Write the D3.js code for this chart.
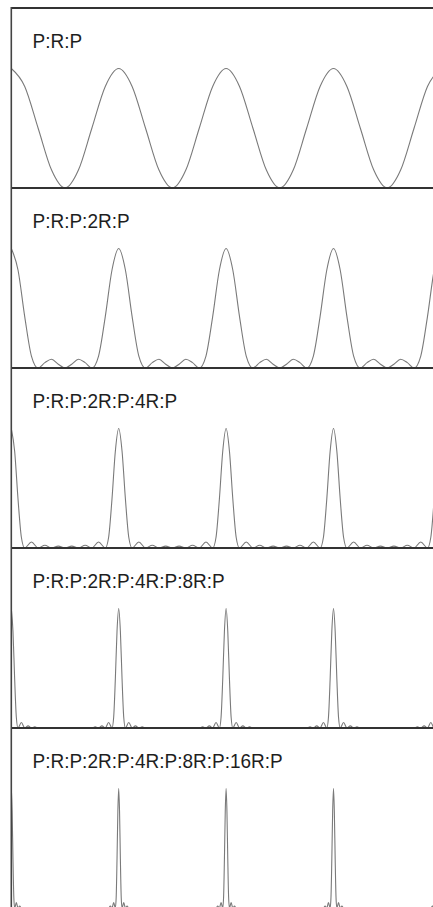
<!DOCTYPE html>
<html>
<head>
<meta charset="utf-8">
<script src="https://cdn.jsdelivr.net/npm/d3@7"></script>
<style>
  html, body { margin: 0; padding: 0; background: #fff; }
  svg { display: block; }
</style>
</head>
<body>
<svg id="chart" width="433" height="907"></svg>
<script>
// Panel titles (stacking sequences)
const labels = [
  "P:R:P",
  "P:R:P:2R:P",
  "P:R:P:2R:P:4R:P",
  "P:R:P:2R:P:4R:P:8R:P",
  "P:R:P:2R:P:4R:P:8R:P:16R:P"
];

// Normalised intensity vs. position (in units of the main-peak spacing)
const seqA = [
  [0,1],[0.125,0.85],[0.25,0.5],[0.375,0.15],[0.5,0],[0.625,0.15],[0.75,0.5],[0.875,0.85],
  [1,1],[1.125,0.85],[1.25,0.5],[1.375,0.15],[1.5,0],[1.625,0.15],[1.75,0.5],[1.875,0.85],
  [2,1],[2.125,0.85],[2.25,0.5],[2.375,0.15],[2.5,0],[2.625,0.15],[2.75,0.5],[2.875,0.85],
  [3,1],[3.125,0.85],[3.25,0.5],[3.375,0.15],[3.5,0],[3.625,0.15],[3.75,0.5],[3.875,0.85],
  [4,1]
];

const seqB = [
  [0,1],[0.0625,0.82],[0.125,0.43],[0.1875,0.1],[0.25,0],[0.3125,0.045],[0.375,0.073],[0.4375,0.032],
  [0.5,0],[0.5625,0.032],[0.625,0.073],[0.6875,0.045],[0.75,0],[0.8125,0.1],[0.875,0.43],[0.9375,0.82],
  [1,1],[1.0625,0.82],[1.125,0.43],[1.1875,0.1],[1.25,0],[1.3125,0.045],[1.375,0.073],[1.4375,0.032],
  [1.5,0],[1.5625,0.032],[1.625,0.073],[1.6875,0.045],[1.75,0],[1.8125,0.1],[1.875,0.43],[1.9375,0.82],
  [2,1],[2.0625,0.82],[2.125,0.43],[2.1875,0.1],[2.25,0],[2.3125,0.045],[2.375,0.073],[2.4375,0.032],
  [2.5,0],[2.5625,0.032],[2.625,0.073],[2.6875,0.045],[2.75,0],[2.8125,0.1],[2.875,0.43],[2.9375,0.82],
  [3,1],[3.0625,0.82],[3.125,0.43],[3.1875,0.1],[3.25,0],[3.3125,0.045],[3.375,0.073],[3.4375,0.032],
  [3.5,0],[3.5625,0.032],[3.625,0.073],[3.6875,0.045],[3.75,0],[3.8125,0.1],[3.875,0.43],[3.9375,0.82],
  [4,1]
];

const seqC = [
  [0,1],[0.03125,0.81],[0.0625,0.41],[0.09375,0.09],[0.125,0],[0.1875,0.05],[0.25,0],[0.3125,0.023],
  [0.375,0],[0.4375,0.016],[0.5,0],[0.5625,0.016],[0.625,0],[0.6875,0.023],[0.75,0],[0.8125,0.05],
  [0.875,0],[0.90625,0.09],[0.9375,0.41],[0.96875,0.81],
  [1,1],[1.03125,0.81],[1.0625,0.41],[1.09375,0.09],[1.125,0],[1.1875,0.05],[1.25,0],[1.3125,0.023],
  [1.375,0],[1.4375,0.016],[1.5,0],[1.5625,0.016],[1.625,0],[1.6875,0.023],[1.75,0],[1.8125,0.05],
  [1.875,0],[1.90625,0.09],[1.9375,0.41],[1.96875,0.81],
  [2,1],[2.03125,0.81],[2.0625,0.41],[2.09375,0.09],[2.125,0],[2.1875,0.05],[2.25,0],[2.3125,0.023],
  [2.375,0],[2.4375,0.016],[2.5,0],[2.5625,0.016],[2.625,0],[2.6875,0.023],[2.75,0],[2.8125,0.05],
  [2.875,0],[2.90625,0.09],[2.9375,0.41],[2.96875,0.81],
  [3,1],[3.03125,0.81],[3.0625,0.41],[3.09375,0.09],[3.125,0],[3.1875,0.05],[3.25,0],[3.3125,0.023],
  [3.375,0],[3.4375,0.016],[3.5,0],[3.5625,0.016],[3.625,0],[3.6875,0.023],[3.75,0],[3.8125,0.05],
  [3.875,0],[3.90625,0.09],[3.9375,0.41],[3.96875,0.81],
  [4,1]
];

const seqD = [
  [0,1],[0.015625,0.81],[0.03125,0.41],[0.046875,0.09],[0.0625,0],[0.09375,0.046],[0.125,0],
  [0.15625,0.018],[0.1875,0],[0.21875,0.01],[0.25,0],[0.75,0],[0.78125,0.01],[0.8125,0],
  [0.84375,0.018],[0.875,0],[0.90625,0.046],[0.9375,0],[0.953125,0.09],[0.96875,0.41],[0.984375,0.81],
  [1,1],[1.015625,0.81],[1.03125,0.41],[1.046875,0.09],[1.0625,0],[1.09375,0.046],[1.125,0],
  [1.15625,0.018],[1.1875,0],[1.21875,0.01],[1.25,0],[1.75,0],[1.78125,0.01],[1.8125,0],
  [1.84375,0.018],[1.875,0],[1.90625,0.046],[1.9375,0],[1.953125,0.09],[1.96875,0.41],[1.984375,0.81],
  [2,1],[2.015625,0.81],[2.03125,0.41],[2.046875,0.09],[2.0625,0],[2.09375,0.046],[2.125,0],
  [2.15625,0.018],[2.1875,0],[2.21875,0.01],[2.25,0],[2.75,0],[2.78125,0.01],[2.8125,0],
  [2.84375,0.018],[2.875,0],[2.90625,0.046],[2.9375,0],[2.953125,0.09],[2.96875,0.41],[2.984375,0.81],
  [3,1],[3.015625,0.81],[3.03125,0.41],[3.046875,0.09],[3.0625,0],[3.09375,0.046],[3.125,0],
  [3.15625,0.018],[3.1875,0],[3.21875,0.01],[3.25,0],[3.75,0],[3.78125,0.01],[3.8125,0],
  [3.84375,0.018],[3.875,0],[3.90625,0.046],[3.9375,0],[3.953125,0.09],[3.96875,0.41],[3.984375,0.81],
  [4,1]
];

const seqE = [
  [0,1],[0.0078125,0.81],[0.015625,0.41],[0.0234375,0.09],[0.03125,0],[0.046875,0.045],[0.0625,0],
  [0.078125,0.017],[0.09375,0],[0.90625,0],[0.921875,0.017],[0.9375,0],[0.953125,0.045],[0.96875,0],
  [0.9765625,0.09],[0.984375,0.41],[0.9921875,0.81],
  [1,1],[1.0078125,0.81],[1.015625,0.41],[1.0234375,0.09],[1.03125,0],[1.046875,0.045],[1.0625,0],
  [1.078125,0.017],[1.09375,0],[1.90625,0],[1.921875,0.017],[1.9375,0],[1.953125,0.045],[1.96875,0],
  [1.9765625,0.09],[1.984375,0.41],[1.9921875,0.81],
  [2,1],[2.0078125,0.81],[2.015625,0.41],[2.0234375,0.09],[2.03125,0],[2.046875,0.045],[2.0625,0],
  [2.078125,0.017],[2.09375,0],[2.90625,0],[2.921875,0.017],[2.9375,0],[2.953125,0.045],[2.96875,0],
  [2.9765625,0.09],[2.984375,0.41],[2.9921875,0.81],
  [3,1],[3.0078125,0.81],[3.015625,0.41],[3.0234375,0.09],[3.03125,0],[3.046875,0.045],[3.0625,0],
  [3.078125,0.017],[3.09375,0],[3.90625,0],[3.921875,0.017],[3.9375,0],[3.953125,0.045],[3.96875,0],
  [3.9765625,0.09],[3.984375,0.41],[3.9921875,0.81],
  [4,1]
];

const series = [seqA, seqB, seqC, seqD, seqE];

// ---- layout ----
const svg = d3.select("#chart");
const W = 433;
const frameLeft = 11.3;

const x = d3.scaleLinear().domain([0, 4]).range([frameLeft, frameLeft + 4 * 107.4]);
const panelTop = d3.scaleLinear().domain([0, 5]).range([8, 908]);
const peakOffset = 119.5;   // height of a unit peak above the panel baseline

svg.append("defs").append("clipPath").attr("id", "plotclip")
  .append("rect").attr("x", frameLeft).attr("y", 0).attr("width", W - frameLeft).attr("height", 907);

const plots = svg.append("g").attr("clip-path", "url(#plotclip)");

series.forEach((data, i) => {
  const base = panelTop(i + 1);
  const y = d3.scaleLinear().domain([0, 1]).range([base, base - peakOffset]);
  const line = d3.line()
    .x(d => x(d[0]))
    .y(d => y(d[1]))
    .curve(d3.curveMonotoneX);
  plots.append("path")
    .datum(data)
    .attr("d", line)
    .attr("fill", "none")
    .attr("stroke", "#7a7a7a")
    .attr("stroke-width", 1.1);
});

// panel frame: horizontal rules and the left edge
const frame = svg.append("g");
d3.range(0, 6).forEach(k => {
  frame.append("line")
    .attr("x1", frameLeft).attr("x2", W)
    .attr("y1", panelTop(k)).attr("y2", panelTop(k))
    .attr("stroke", "#333").attr("stroke-width", 2);
});
frame.append("line")
  .attr("x1", frameLeft).attr("x2", frameLeft)
  .attr("y1", panelTop(0) - 1).attr("y2", 907)
  .attr("stroke", "#444").attr("stroke-width", 1.6);

// panel titles
labels.forEach((t, i) => {
  svg.append("text")
    .attr("transform", `translate(32.5,${panelTop(i) + 40.3}) scale(1,1.1)`)
    .attr("font-family", "'Liberation Sans', Arial, sans-serif")
    .attr("font-size", 19)
    .attr("fill", "#1e1e1e")
    .text(t);
});
</script>
</body>
</html>
